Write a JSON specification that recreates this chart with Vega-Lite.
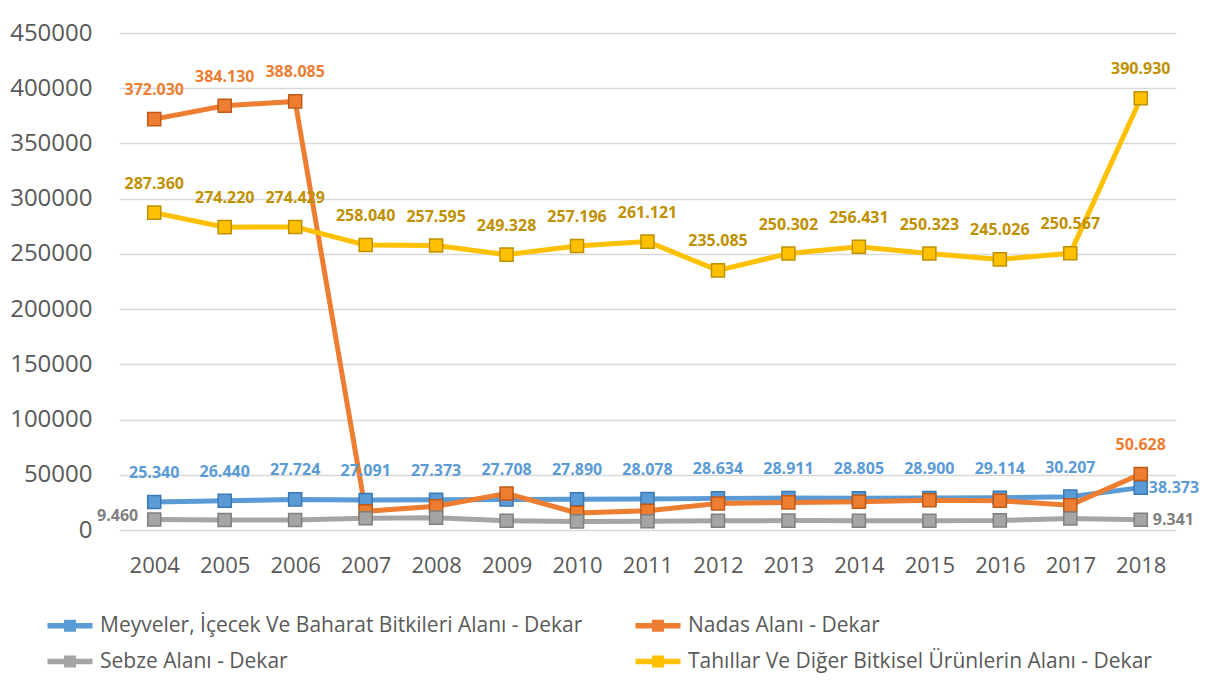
{
  "$schema": "https://vega.github.io/schema/vega-lite/v6.json",
  "width": 1057,
  "height": 497,
  "autosize": {"type": "none"},
  "padding": {"left": 119, "top": 33, "right": 34, "bottom": 150},
  "background": "white",
  "config": {
    "locale": {"number": {"decimal": ",", "thousands": ".", "grouping": [3], "currency": ["", " TL"]}},
    "view": {"stroke": null},
    "font": "Open Sans"
  },
  "data": {
    "values": [
      {"year": 2004, "series": "Meyveler, İçecek Ve Baharat Bitkileri Alanı - Dekar", "value": 25340},
      {"year": 2005, "series": "Meyveler, İçecek Ve Baharat Bitkileri Alanı - Dekar", "value": 26440},
      {"year": 2006, "series": "Meyveler, İçecek Ve Baharat Bitkileri Alanı - Dekar", "value": 27724},
      {"year": 2007, "series": "Meyveler, İçecek Ve Baharat Bitkileri Alanı - Dekar", "value": 27091},
      {"year": 2008, "series": "Meyveler, İçecek Ve Baharat Bitkileri Alanı - Dekar", "value": 27373},
      {"year": 2009, "series": "Meyveler, İçecek Ve Baharat Bitkileri Alanı - Dekar", "value": 27708},
      {"year": 2010, "series": "Meyveler, İçecek Ve Baharat Bitkileri Alanı - Dekar", "value": 27890},
      {"year": 2011, "series": "Meyveler, İçecek Ve Baharat Bitkileri Alanı - Dekar", "value": 28078},
      {"year": 2012, "series": "Meyveler, İçecek Ve Baharat Bitkileri Alanı - Dekar", "value": 28634},
      {"year": 2013, "series": "Meyveler, İçecek Ve Baharat Bitkileri Alanı - Dekar", "value": 28911},
      {"year": 2014, "series": "Meyveler, İçecek Ve Baharat Bitkileri Alanı - Dekar", "value": 28805},
      {"year": 2015, "series": "Meyveler, İçecek Ve Baharat Bitkileri Alanı - Dekar", "value": 28900},
      {"year": 2016, "series": "Meyveler, İçecek Ve Baharat Bitkileri Alanı - Dekar", "value": 29114},
      {"year": 2017, "series": "Meyveler, İçecek Ve Baharat Bitkileri Alanı - Dekar", "value": 30207},
      {"year": 2018, "series": "Meyveler, İçecek Ve Baharat Bitkileri Alanı - Dekar", "value": 38373},
      {"year": 2004, "series": "Nadas Alanı - Dekar", "value": 372030},
      {"year": 2005, "series": "Nadas Alanı - Dekar", "value": 384130},
      {"year": 2006, "series": "Nadas Alanı - Dekar", "value": 388085},
      {"year": 2007, "series": "Nadas Alanı - Dekar", "value": 17000},
      {"year": 2008, "series": "Nadas Alanı - Dekar", "value": 21500},
      {"year": 2009, "series": "Nadas Alanı - Dekar", "value": 33000},
      {"year": 2010, "series": "Nadas Alanı - Dekar", "value": 15500},
      {"year": 2011, "series": "Nadas Alanı - Dekar", "value": 17500},
      {"year": 2012, "series": "Nadas Alanı - Dekar", "value": 24000},
      {"year": 2013, "series": "Nadas Alanı - Dekar", "value": 25000},
      {"year": 2014, "series": "Nadas Alanı - Dekar", "value": 25500},
      {"year": 2015, "series": "Nadas Alanı - Dekar", "value": 27000},
      {"year": 2016, "series": "Nadas Alanı - Dekar", "value": 26500},
      {"year": 2017, "series": "Nadas Alanı - Dekar", "value": 22500},
      {"year": 2018, "series": "Nadas Alanı - Dekar", "value": 50628},
      {"year": 2004, "series": "Sebze Alanı - Dekar", "value": 9460},
      {"year": 2005, "series": "Sebze Alanı - Dekar", "value": 9000},
      {"year": 2006, "series": "Sebze Alanı - Dekar", "value": 9000},
      {"year": 2007, "series": "Sebze Alanı - Dekar", "value": 10600},
      {"year": 2008, "series": "Sebze Alanı - Dekar", "value": 11200},
      {"year": 2009, "series": "Sebze Alanı - Dekar", "value": 8300},
      {"year": 2010, "series": "Sebze Alanı - Dekar", "value": 7800},
      {"year": 2011, "series": "Sebze Alanı - Dekar", "value": 7900},
      {"year": 2012, "series": "Sebze Alanı - Dekar", "value": 8300},
      {"year": 2013, "series": "Sebze Alanı - Dekar", "value": 8500},
      {"year": 2014, "series": "Sebze Alanı - Dekar", "value": 8400},
      {"year": 2015, "series": "Sebze Alanı - Dekar", "value": 8400},
      {"year": 2016, "series": "Sebze Alanı - Dekar", "value": 8700},
      {"year": 2017, "series": "Sebze Alanı - Dekar", "value": 10500},
      {"year": 2018, "series": "Sebze Alanı - Dekar", "value": 9341},
      {"year": 2004, "series": "Tahıllar Ve Diğer Bitkisel Ürünlerin Alanı - Dekar", "value": 287360},
      {"year": 2005, "series": "Tahıllar Ve Diğer Bitkisel Ürünlerin Alanı - Dekar", "value": 274220},
      {"year": 2006, "series": "Tahıllar Ve Diğer Bitkisel Ürünlerin Alanı - Dekar", "value": 274429},
      {"year": 2007, "series": "Tahıllar Ve Diğer Bitkisel Ürünlerin Alanı - Dekar", "value": 258040},
      {"year": 2008, "series": "Tahıllar Ve Diğer Bitkisel Ürünlerin Alanı - Dekar", "value": 257595},
      {"year": 2009, "series": "Tahıllar Ve Diğer Bitkisel Ürünlerin Alanı - Dekar", "value": 249328},
      {"year": 2010, "series": "Tahıllar Ve Diğer Bitkisel Ürünlerin Alanı - Dekar", "value": 257196},
      {"year": 2011, "series": "Tahıllar Ve Diğer Bitkisel Ürünlerin Alanı - Dekar", "value": 261121},
      {"year": 2012, "series": "Tahıllar Ve Diğer Bitkisel Ürünlerin Alanı - Dekar", "value": 235085},
      {"year": 2013, "series": "Tahıllar Ve Diğer Bitkisel Ürünlerin Alanı - Dekar", "value": 250302},
      {"year": 2014, "series": "Tahıllar Ve Diğer Bitkisel Ürünlerin Alanı - Dekar", "value": 256431},
      {"year": 2015, "series": "Tahıllar Ve Diğer Bitkisel Ürünlerin Alanı - Dekar", "value": 250323},
      {"year": 2016, "series": "Tahıllar Ve Diğer Bitkisel Ürünlerin Alanı - Dekar", "value": 245026},
      {"year": 2017, "series": "Tahıllar Ve Diğer Bitkisel Ürünlerin Alanı - Dekar", "value": 250567},
      {"year": 2018, "series": "Tahıllar Ve Diğer Bitkisel Ürünlerin Alanı - Dekar", "value": 390930}
    ]
  },
  "encoding": {
    "x": {
      "field": "year", "type": "ordinal",
      "scale": {"type": "point", "padding": 0.5},
      "axis": {"title": null, "labelAngle": 0, "labelFontSize": 22, "labelColor": "#595959", "labelPadding": 25, "ticks": false, "domain": false, "grid": false, "labelFont": "Open Sans"}
    },
    "y": {
      "field": "value", "type": "quantitative",
      "scale": {"domain": [0, 450000], "nice": false},
      "axis": {"title": null, "values": [0, 50000, 100000, 150000, 200000, 250000, 300000, 350000, 400000, 450000], "format": "d", "labelFontSize": 24, "labelColor": "#595959", "labelPadding": 27, "ticks": false, "domain": false, "gridColor": "#d9d9d9", "gridWidth": 1.3, "labelFont": "Open Sans"}
    }
  },
  "layer": [
    {
      "mark": {"type": "line", "strokeWidth": 5},
      "encoding": {
        "color": {"field": "series", "type": "nominal", "legend": null,
          "scale": {"range": ["#5B9BD5", "#ED7D31", "#A5A5A5", "#FFC000"]}}
      }
    },
    {
      "mark": {"type": "point", "shape": "square", "filled": true, "size": 170, "strokeWidth": 1.5, "opacity": 1},
      "encoding": {
        "fill": {"field": "series", "type": "nominal",
          "scale": {"range": ["#5B9BD5", "#ED7D31", "#A5A5A5", "#FFC000"]},
          "legend": {
            "title": null,
            "orient": "none",
            "direction": "horizontal",
            "legendX": -76,
            "legendY": 582,
            "columns": 2,
            "columnPadding": 48,
            "rowPadding": 14,
            "symbolType": "M-1,-0.45H6.5V0.45H-1Z M1.75,-1H3.75V1H1.75Z",
            "symbolSize": 144,
            "symbolStrokeWidth": 0,
            "labelOffset": 36,
            "labelFontSize": 21,
            "labelColor": "#595959",
            "labelFont": "Open Sans",
            "labelLimit": 700
          }
        },
        "stroke": {"field": "series", "type": "nominal", "legend": null,
          "scale": {"range": ["#3A78B5", "#C05A18", "#7F7F7F", "#BF9000"]}}
      }
    },
    {
      "transform": [{"filter": "(test(/^Meyveler/, datum.series) && datum.year != 2018) || (test(/^Nadas/, datum.series) && (datum.year <= 2006 || datum.year == 2018)) || test(/^Tahıllar/, datum.series)"}],
      "mark": {"type": "text", "dy": -29, "fontSize": 16, "fontWeight": "bold", "font": "Open Sans"},
      "encoding": {
        "text": {"field": "value", "type": "quantitative", "format": ",d"},
        "color": {"field": "series", "type": "nominal", "legend": null,
          "scale": {"domain": ["Meyveler, İçecek Ve Baharat Bitkileri Alanı - Dekar", "Nadas Alanı - Dekar", "Sebze Alanı - Dekar", "Tahıllar Ve Diğer Bitkisel Ürünlerin Alanı - Dekar"], "range": ["#5B9BD5", "#ED7D31", "#7F7F7F", "#BF9000"]}}
      }
    },
    {
      "transform": [{"filter": "test(/^Meyveler/, datum.series) && datum.year == 2018"}],
      "mark": {"type": "text", "align": "left", "dx": 8, "fontSize": 16, "fontWeight": "bold", "font": "Open Sans", "color": "#5B9BD5"},
      "encoding": {
        "text": {"field": "value", "type": "quantitative", "format": ",d"}
      }
    },
    {
      "transform": [{"filter": "test(/^Sebze/, datum.series) && datum.year == 2018"}],
      "mark": {"type": "text", "align": "left", "dx": 12, "fontSize": 16, "fontWeight": "bold", "font": "Open Sans", "color": "#7F7F7F"},
      "encoding": {
        "text": {"field": "value", "type": "quantitative", "format": ",d"}
      }
    },
    {
      "transform": [{"filter": "test(/^Sebze/, datum.series) && datum.year == 2004"}],
      "mark": {"type": "text", "align": "right", "dx": -16, "dy": -4, "fontSize": 16, "fontWeight": "bold", "font": "Open Sans", "color": "#7F7F7F"},
      "encoding": {
        "text": {"field": "value", "type": "quantitative", "format": ",d"}
      }
    }
  ],
  "resolve": {"scale": {"color": "independent"}}
}
